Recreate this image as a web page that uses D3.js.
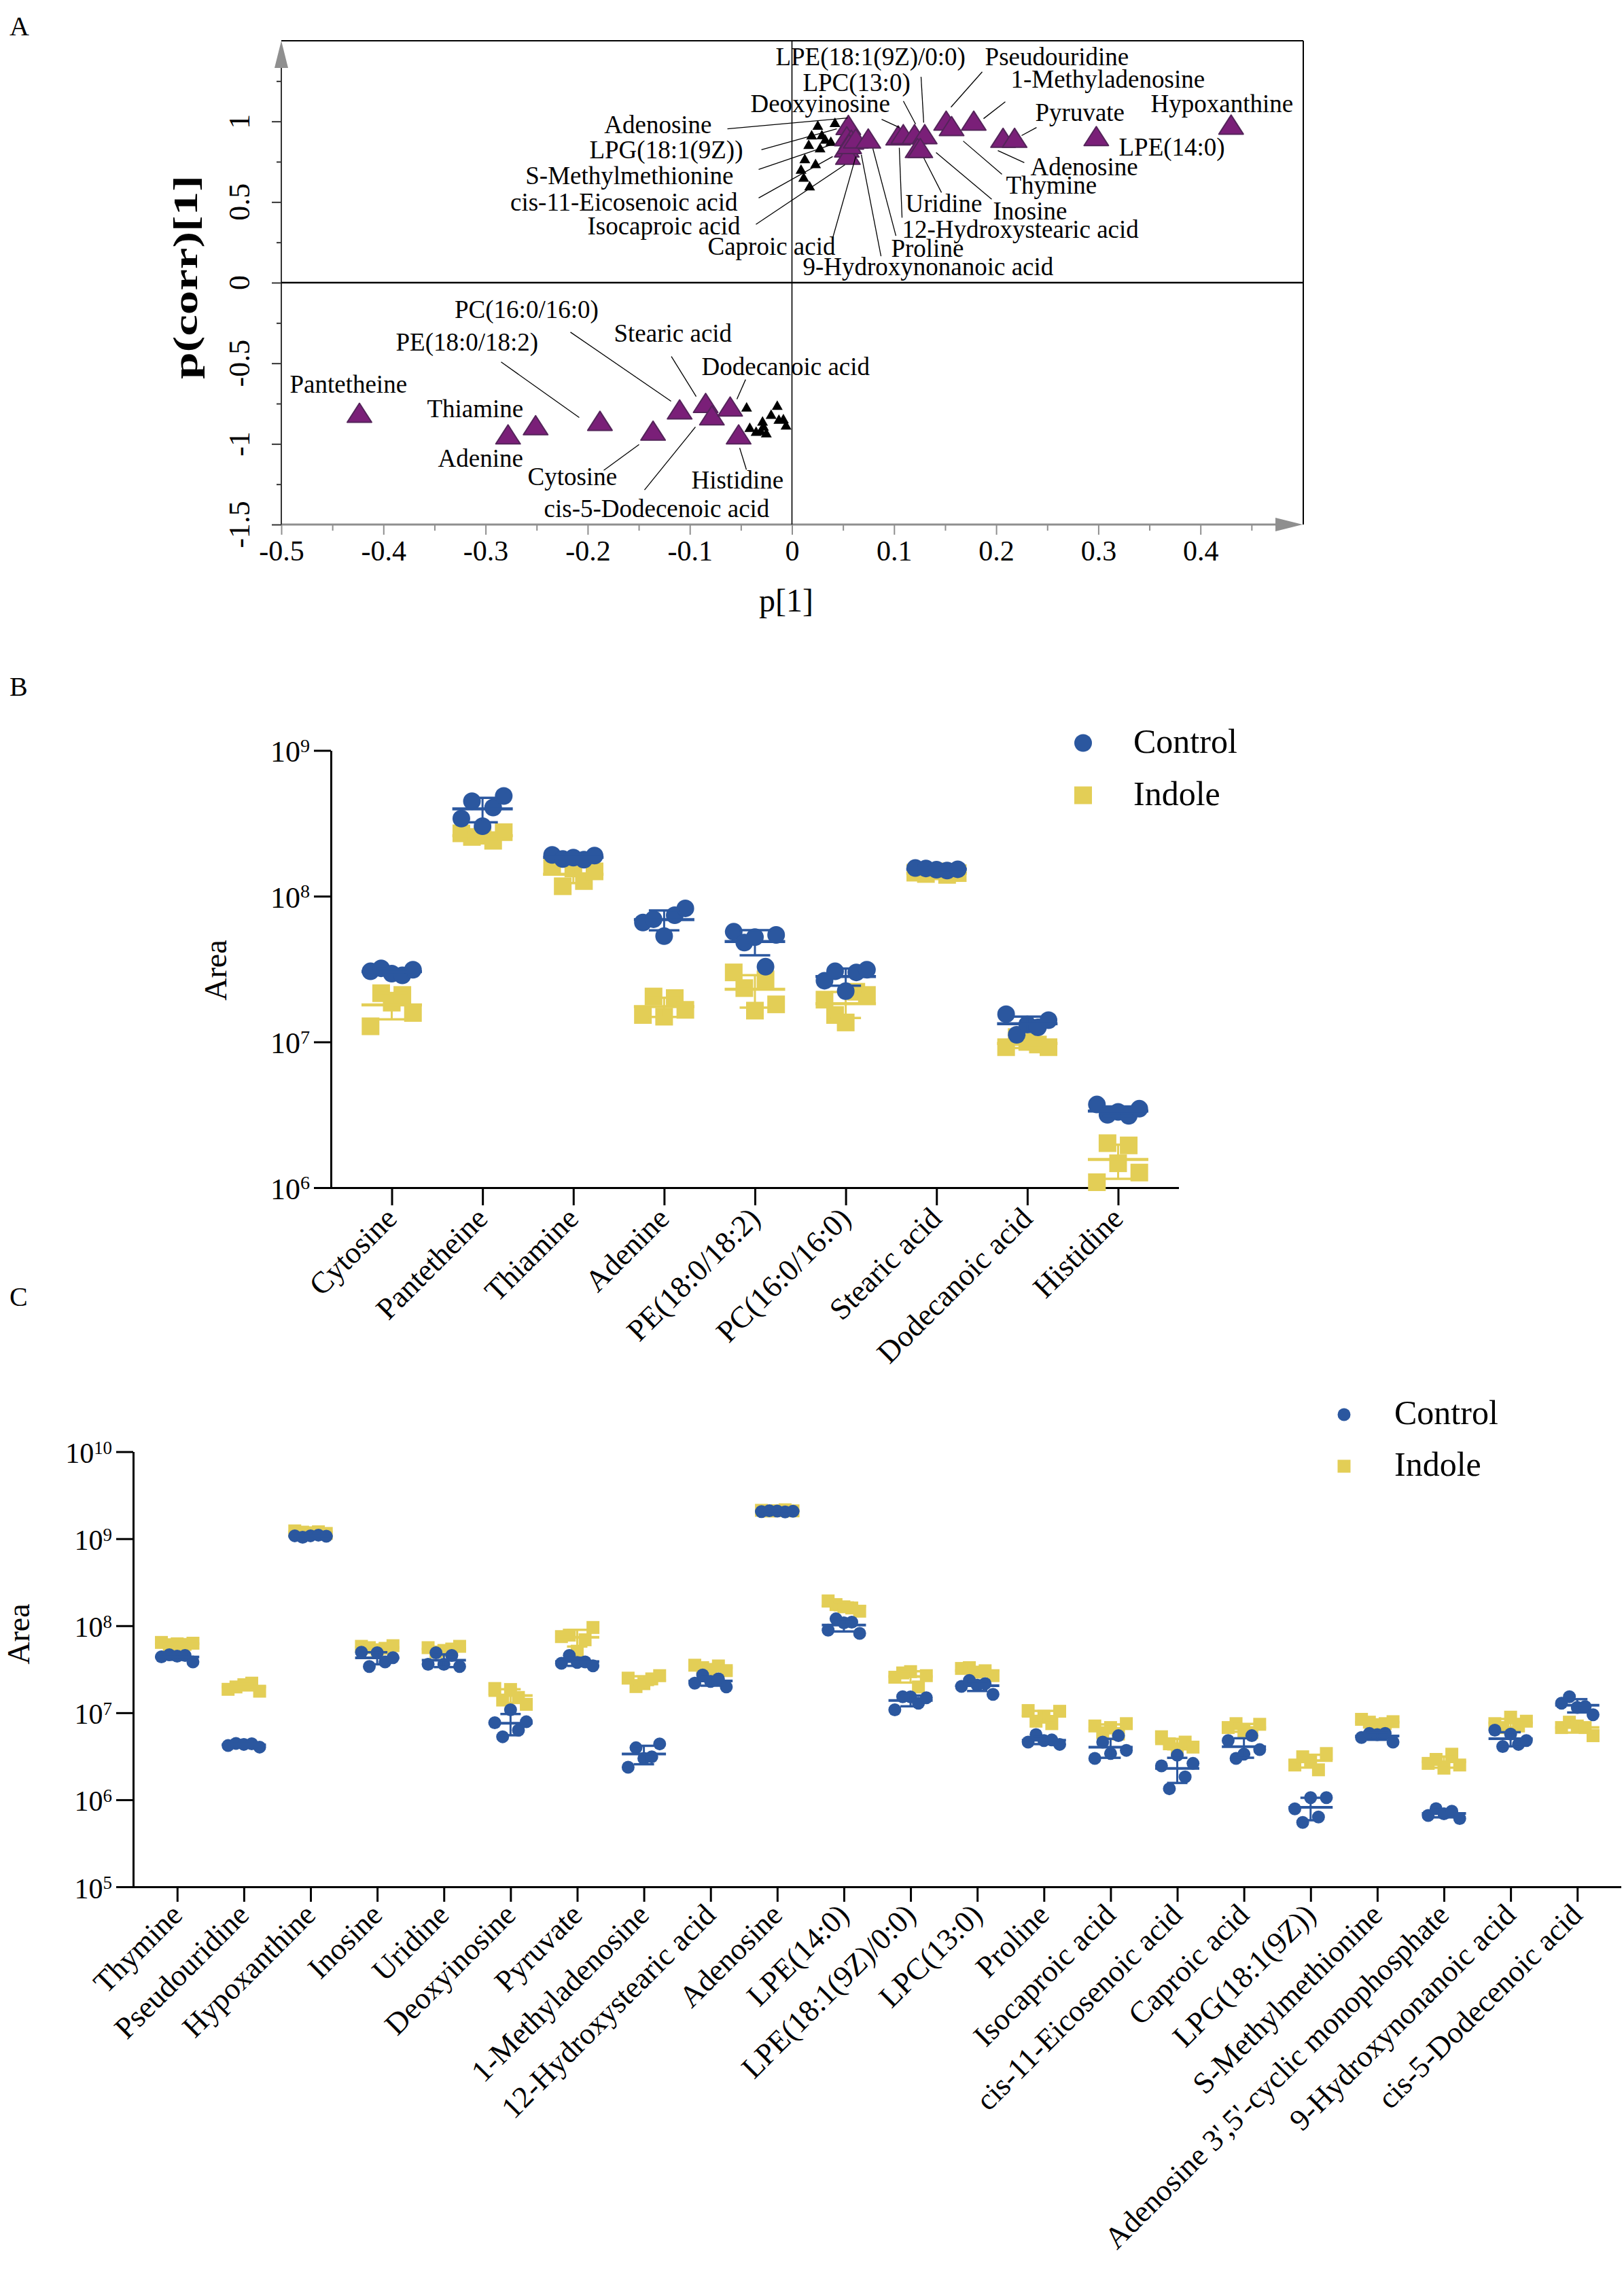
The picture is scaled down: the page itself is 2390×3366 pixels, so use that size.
<!DOCTYPE html>
<html>
<head>
<meta charset="utf-8">
<script src="https://cdn.jsdelivr.net/npm/d3@7"></script>
<style>
  body { margin: 0; background: #fff; }
  svg text { font-family: "Liberation Serif", "Times New Roman", serif; fill: #000; }
</style>
</head>
<body>
<svg id="fig" width="2390" height="3366"></svg>
<script>
// ---------- Panel A: S-plot, p[1] vs p(corr)[1] ----------
const upPoints = [
  [0.0552, 0.978], [0.0537, 0.908], [0.0581, 0.887], [0.0537, 0.838], [0.0548, 0.793],
  [0.0560, 0.860], [0.0625, 0.894], [0.0747, 0.894], [0.1040, 0.913], [0.1090, 0.921],
  [0.1200, 0.921], [0.1300, 0.921], [0.1230, 0.835], [0.1257, 0.835], [0.1510, 1.005],
  [0.1563, 0.971], [0.1780, 1.005], [0.2067, 0.898], [0.2180, 0.898], [0.2980, 0.909],
  [0.4300, 0.980]
];
const downPoints = [
  [-0.4235, -0.807], [-0.278, -0.941], [-0.251, -0.884], [-0.188, -0.857], [-0.136, -0.918],
  [-0.110, -0.786], [-0.0845, -0.746], [-0.0784, -0.823], [-0.0605, -0.768], [-0.0522, -0.941]
];
const otherPoints = [
  [0.0421, 0.994], [0.0253, 0.978], [0.0193, 0.917], [0.0293, 0.919], [0.0326, 0.891],
  [0.0381, 0.877], [0.0164, 0.858], [0.0275, 0.837], [0.0126, 0.770], [0.0231, 0.739],
  [0.0089, 0.705], [0.0115, 0.655], [0.0173, 0.602],
  [-0.0444, -0.770], [-0.0144, -0.759], [-0.0204, -0.815], [-0.0128, -0.846], [-0.0084, -0.843],
  [-0.0058, -0.882], [-0.0288, -0.857], [-0.0413, -0.896], [-0.0351, -0.921], [-0.0306, -0.916],
  [-0.0251, -0.930], [-0.0279, -0.888]
];
// name, label x, label y, anchor, leader from (x, y) to (x, y) -- all in data units
const plotLabels = [
  ["LPE(18:1(9Z)/0:0)", -0.016, 1.349, "start", 0.1264, 1.277, 0.129, 0.992],
  ["Pseudouridine", 0.189, 1.349, "start", 0.1863, 1.307, 0.1557, 1.088],
  ["LPC(13:0)", 0.0106, 1.189, "start", 0.1091, 1.126, 0.1211, 0.983],
  ["1-Methyladenosine", 0.2142, 1.210, "start", 0.2089, 1.122, 0.1876, 1.017],
  ["Deoxyinosine", -0.0406, 1.059, "start", 0.0878, 1.013, 0.1051, 0.962],
  ["Pyruvate", 0.2382, 1.004, "start", 0.2395, 0.962, 0.2249, 0.912],
  ["Hypoxanthine", 0.3513, 1.059, "start"],
  ["LPE(14:0)", 0.32, 0.790, "start"],
  ["Adenosine", 0.2335, 0.664, "start", 0.2275, 0.744, 0.2016, 0.819],
  ["Thymine", 0.2096, 0.550, "start", 0.2056, 0.672, 0.1677, 0.878],
  ["Uridine", 0.1111, 0.437, "start", 0.1464, 0.559, 0.1291, 0.773],
  ["Inosine", 0.1969, 0.391, "start", 0.1956, 0.517, 0.1411, 0.807],
  ["12-Hydroxystearic acid", 0.1078, 0.277, "start", 0.1078, 0.403, 0.1051, 0.836],
  ["Proline", 0.0971, 0.160, "start", 0.1018, 0.290, 0.0792, 0.832],
  ["9-Hydroxynonanoic acid", 0.0106, 0.046, "start", 0.0872, 0.164, 0.0679, 0.794],
  ["Caproic acid", -0.0825, 0.172, "start", 0.0399, 0.277, 0.0625, 0.782],
  ["Adenosine", -0.0785, 0.929, "end", -0.0632, 0.954, 0.0546, 1.021],
  ["LPG(18:1(9Z))", -0.0479, 0.769, "end", -0.0299, 0.824, 0.0439, 0.954],
  ["S-Methylmethionine", -0.0572, 0.613, "end", -0.0326, 0.702, 0.0413, 0.861],
  ["cis-11-Eicosenoic acid", -0.0532, 0.445, "end", -0.0326, 0.525, 0.0399, 0.782],
  ["Isocaproic acid", -0.0506, 0.298, "end", -0.0353, 0.361, 0.0519, 0.731],
  ["PC(16:0/16:0)", -0.3303, -0.218, "start", -0.2169, -0.307, -0.1184, -0.735],
  ["PE(18:0/18:2)", -0.3879, -0.420, "start", -0.2848, -0.492, -0.2083, -0.836],
  ["Stearic acid", -0.1743, -0.366, "start", -0.1181, -0.458, -0.0938, -0.706],
  ["Dodecanoic acid", -0.0885, -0.571, "start", -0.0454, -0.601, -0.0539, -0.723],
  ["Pantetheine", -0.4917, -0.681, "start"],
  ["Thiamine", -0.3573, -0.836, "start"],
  ["Adenine", -0.3466, -1.143, "start"],
  ["Cytosine", -0.2588, -1.256, "start", -0.1843, -1.164, -0.1497, -1.004],
  ["Histidine", -0.0985, -1.277, "start", -0.0446, -1.160, -0.0512, -1.025],
  ["cis-5-Dodecenoic acid", -0.2428, -1.454, "start", -0.1444, -1.286, -0.0945, -0.895]
];
const pTicks = [-0.5, -0.4, -0.3, -0.2, -0.1, 0, 0.1, 0.2, 0.3, 0.4];
const pMinor = [-0.45, -0.35, -0.25, -0.15, -0.05, 0.05, 0.15, 0.25, 0.35, 0.45];
const corrTicks = [-1.5, -1, -0.5, 0, 0.5, 1];
const corrMinor = [-1.25, -0.75, -0.25, 0.25, 0.75, 1.25];

// ---------- Panel B ----------
const namesB = ["Cytosine", "Pantetheine", "Thiamine", "Adenine", "PE(18:0/18:2)",
  "PC(16:0/16:0)", "Stearic acid", "Dodecanoic acid", "Histidine"];
const controlB = [
  [3.05e7, 3.2e7, 2.94e7, 2.86e7, 3.13e7],
  [3.41e8, 4.48e8, 3.02e8, 4.06e8, 4.87e8],
  [1.92e8, 1.8e8, 1.84e8, 1.78e8, 1.9e8],
  [6.6e7, 6.95e7, 5.32e7, 7.4e7, 8.25e7],
  [5.7e7, 4.8e7, 5.24e7, 3.28e7, 5.42e7],
  [2.63e7, 3.05e7, 2.23e7, 3.0e7, 3.13e7],
  [1.56e8, 1.55e8, 1.52e8, 1.5e8, 1.53e8],
  [1.55e7, 1.12e7, 1.32e7, 1.26e7, 1.41e7],
  [3.72e6, 3.16e6, 3.31e6, 3.11e6, 3.48e6]
];
const indoleB = [
  [1.28e7, 2.16e7, 1.86e7, 2.1e7, 1.58e7],
  [2.7e8, 2.55e8, 2.6e8, 2.4e8, 2.75e8],
  [1.59e8, 1.17e8, 1.55e8, 1.27e8, 1.48e8],
  [1.53e7, 2.05e7, 1.49e7, 2.0e7, 1.66e7],
  [3.0e7, 2.34e7, 1.64e7, 2.69e7, 1.81e7],
  [1.95e7, 1.53e7, 1.36e7, 2.21e7, 2.1e7],
  [1.45e8, 1.42e8, 1.48e8, 1.4e8, 1.44e8],
  [9.2e6, 1.08e7, 1.0e7, 9.6e6, 9.2e6],
  [1.09e6, 2.02e6, 1.47e6, 1.95e6, 1.27e6]
];
const decadesB = [1e6, 1e7, 1e8, 1e9];

// ---------- Panel C ----------
const namesC = ["Thymine", "Pseudouridine", "Hypoxanthine", "Inosine", "Uridine", "Deoxyinosine",
  "Pyruvate", "1-Methyladenosine", "12-Hydroxystearic acid", "Adenosine", "LPE(14:0)",
  "LPE(18:1(9Z)/0:0)", "LPC(13:0)", "Proline", "Isocaproic acid", "cis-11-Eicosenoic acid",
  "Caproic acid", "LPG(18:1(9Z))", "S-Methylmethionine",
  "Adenosine 3',5'-cyclic monophosphate", "9-Hydroxynonanoic acid", "cis-5-Dodecenoic acid"];
const controlC = [
  [4.4e7, 4.64e7, 4.48e7, 4.56e7, 3.84e7],
  [4.2e6, 4.45e6, 4.33e6, 4.4e6, 4.03e6],
  [1.08e9, 1.04e9, 1.08e9, 1.1e9, 1.07e9],
  [4.97e7, 3.4e7, 4.9e7, 3.84e7, 4.3e7],
  [3.61e7, 4.9e7, 3.61e7, 4.56e7, 3.4e7],
  [7.69e6, 5.3e6, 1.08e7, 6.3e6, 7.88e6],
  [3.71e7, 4.56e7, 3.78e7, 3.84e7, 3.46e7],
  [2.37e6, 3.96e6, 2.99e6, 3.12e6, 4.39e6],
  [2.19e7, 2.72e7, 2.29e7, 2.45e7, 1.98e7],
  [2.05e9, 2.1e9, 2.08e9, 2.03e9, 2.07e9],
  [8.9e7, 1.2e8, 1.08e8, 1.1e8, 8.18e7],
  [1.08e7, 1.53e7, 1.52e7, 1.29e7, 1.49e7],
  [2.01e7, 2.35e7, 2.07e7, 2.16e7, 1.63e7],
  [4.6e6, 5.6e6, 4.79e6, 4.87e6, 4.33e6],
  [2.99e6, 4.6e6, 3.4e6, 5.45e6, 3.7e6],
  [2.45e6, 1.34e6, 3.25e6, 1.83e6, 2.62e6],
  [4.79e6, 2.99e6, 3.34e6, 5.45e6, 3.77e6],
  [7.87e5, 5.5e5, 1.06e6, 6.35e5, 1.06e6],
  [5.2e6, 5.8e6, 5.6e6, 5.8e6, 4.6e6],
  [6.6e5, 7.9e5, 6.9e5, 7.4e5, 6.1e5],
  [6.31e6, 4.1e6, 5.69e6, 4.33e6, 4.79e6],
  [1.29e7, 1.53e7, 1.15e7, 1.18e7, 9.5e6]
];
const indoleC = [
  [6.43e7, 6.05e7, 6.2e7, 6.1e7, 6.3e7],
  [1.86e7, 1.98e7, 2.1e7, 2.19e7, 1.77e7],
  [1.23e9, 1.19e9, 1.17e9, 1.2e9, 1.15e9],
  [5.8e7, 5.6e7, 5.3e7, 5.5e7, 5.9e7],
  [5.6e7, 5.0e7, 5.2e7, 5.4e7, 5.8e7],
  [1.9e7, 1.4e7, 1.85e7, 1.5e7, 1.25e7],
  [7.5e7, 7.8e7, 5.1e7, 6.9e7, 9.55e7],
  [2.5e7, 2.0e7, 2.16e7, 2.45e7, 2.67e7],
  [3.52e7, 3.3e7, 3.15e7, 3.45e7, 3.05e7],
  [2.12e9, 2.08e9, 2.1e9, 2.15e9, 2.09e9],
  [1.93e8, 1.75e8, 1.65e8, 1.6e8, 1.47e8],
  [2.56e7, 2.87e7, 2.97e7, 1.98e7, 2.67e7],
  [3.23e7, 3.3e7, 2.93e7, 3.04e7, 2.67e7],
  [1.06e7, 8.0e6, 9.1e6, 7.5e6, 1.04e7],
  [7.05e6, 5.9e6, 6.76e6, 5.7e6, 7.5e6],
  [5.3e6, 4.4e6, 3.7e6, 4.6e6, 4.03e6],
  [6.76e6, 7.5e6, 6.2e6, 5.9e6, 7.37e6],
  [2.51e6, 3.12e6, 2.85e6, 2.21e6, 3.4e6],
  [8.4e6, 7.8e6, 7.3e6, 7.5e6, 7.9e6],
  [2.62e6, 2.91e6, 2.31e6, 3.34e6, 2.51e6],
  [7.5e6, 6.76e6, 8.9e6, 7.05e6, 8.0e6],
  [6.76e6, 7.8e6, 7.05e6, 6.76e6, 5.45e6]
];
const decadesC = [1e5, 1e6, 1e7, 1e8, 1e9, 1e10];
const groups = ["Control", "Indole"];

const BLUE = "#2b579f", YELLOW = "#e3ce56", PURPLE = "#7a1f78", GREY = "#8f8f8f";
const svg = d3.select("#fig");

// panel letters
svg.append("text").attr("x", 14).attr("y", 52).attr("font-size", 40).text("A");
svg.append("text").attr("x", 14).attr("y", 1024).attr("font-size", 40).text("B");
svg.append("text").attr("x", 14).attr("y", 1922).attr("font-size", 40).text("C");

// =================== Panel A ===================
const gA = svg.append("g");
const xA = d3.scaleLinear().domain([-0.5, 0.5]).range([414, 1917]);
const yA = d3.scaleLinear().domain([-1.5, 1.5]).range([772, 60]);

// frame top / right
gA.append("line").attr("x1", xA(-0.5)).attr("x2", xA(0.5) + 1)
  .attr("y1", yA(1.5)).attr("y2", yA(1.5)).attr("stroke", "#000").attr("stroke-width", 2);
gA.append("line").attr("x1", xA(0.5) + 1).attr("x2", xA(0.5) + 1)
  .attr("y1", yA(1.5)).attr("y2", yA(-1.5)).attr("stroke", "#000").attr("stroke-width", 2);

// x axis (grey, with arrow)
const axXmin = gA.append("g").attr("transform", `translate(0,${yA(-1.5)})`)
  .call(d3.axisBottom(xA).tickValues(pMinor).tickSize(9).tickFormat(""));
const axXmaj = gA.append("g").attr("transform", `translate(0,${yA(-1.5)})`)
  .call(d3.axisBottom(xA).tickValues(pTicks).tickSize(15).tickPadding(8).tickFormat(d => String(d)));
[axXmin, axXmaj].forEach(a => {
  a.select(".domain").remove();
  a.selectAll(".tick line").attr("stroke", GREY).attr("stroke-width", 2);
});
axXmaj.selectAll(".tick text").attr("font-size", 42)
  .style("font-family", '"Liberation Serif","Times New Roman",serif');
gA.append("line").attr("x1", xA(-0.5)).attr("x2", xA(0.5) - 38)
  .attr("y1", yA(-1.5)).attr("y2", yA(-1.5)).attr("stroke", GREY).attr("stroke-width", 3);
gA.append("path")
  .attr("d", `M${xA(0.5)},${yA(-1.5)} L${xA(0.5) - 40},${yA(-1.5) - 10} L${xA(0.5) - 40},${yA(-1.5) + 10} Z`)
  .attr("fill", GREY);

// y axis (with arrow)
const axYmin = gA.append("g").attr("transform", `translate(${xA(-0.5)},0)`)
  .call(d3.axisLeft(yA).tickValues(corrMinor).tickSize(7).tickFormat(""));
const axYmaj = gA.append("g").attr("transform", `translate(${xA(-0.5)},0)`)
  .call(d3.axisLeft(yA).tickValues(corrTicks).tickSize(14).tickFormat(""));
[axYmin, axYmaj].forEach(a => {
  a.select(".domain").remove();
  a.selectAll(".tick line").attr("stroke", "#333").attr("stroke-width", 2);
});
gA.append("line").attr("x1", xA(-0.5)).attr("x2", xA(-0.5))
  .attr("y1", yA(-1.5)).attr("y2", yA(1.5) + 38).attr("stroke", "#333").attr("stroke-width", 2);
gA.append("path")
  .attr("d", `M${xA(-0.5)},${yA(1.5)} L${xA(-0.5) - 10},${yA(1.5) + 40} L${xA(-0.5) + 10},${yA(1.5) + 40} Z`)
  .attr("fill", GREY);
gA.selectAll(".ylab").data(corrTicks).enter().append("text")
  .attr("transform", d => `translate(367,${yA(d)}) rotate(-90)`)
  .attr("text-anchor", "middle").attr("font-size", 44)
  .text(d => String(d));

// axis titles
gA.append("text").attr("transform", `translate(290,${yA(0) - 8}) rotate(-90)`)
  .attr("text-anchor", "middle").attr("font-size", 50).attr("font-weight", "bold")
  .attr("textLength", 300).attr("lengthAdjust", "spacingAndGlyphs").text("p(corr)[1]");
gA.append("text").attr("x", 1157).attr("y", 900).attr("text-anchor", "middle")
  .attr("font-size", 48).text("p[1]");

// zero lines
gA.append("line").attr("x1", xA(-0.5)).attr("x2", xA(0.5))
  .attr("y1", yA(0)).attr("y2", yA(0)).attr("stroke", "#000").attr("stroke-width", 2.5);
gA.append("line").attr("x1", xA(0)).attr("x2", xA(0))
  .attr("y1", yA(-1.5)).attr("y2", yA(1.5)).attr("stroke", "#000").attr("stroke-width", 1.6);

// triangles
const tri = (w, h) => `M0,${-h / 2} L${w / 2},${h / 2} L${-w / 2},${h / 2} Z`;
gA.selectAll(".blk").data(otherPoints).enter().append("path")
  .attr("d", tri(16, 14)).attr("fill", "#000")
  .attr("transform", d => `translate(${xA(d[0])},${yA(d[1])})`);
gA.selectAll(".pur").data(upPoints.concat(downPoints)).enter().append("path")
  .attr("d", tri(36, 28)).attr("fill", PURPLE).attr("stroke", "#54245a").attr("stroke-width", 2)
  .attr("stroke-linejoin", "round")
  .attr("transform", d => `translate(${xA(d[0])},${yA(d[1])})`);

// annotation labels and leader lines
plotLabels.forEach(l => {
  if (l.length > 4) {
    gA.append("line").attr("x1", xA(l[4])).attr("y1", yA(l[5]))
      .attr("x2", xA(l[6])).attr("y2", yA(l[7])).attr("stroke", "#000").attr("stroke-width", 1.3);
  }
  gA.append("text").attr("x", xA(l[1])).attr("y", yA(l[2])).attr("text-anchor", l[3])
    .attr("font-size", 37).text(l[0]);
});

// =================== dot plot panels ===================
function dotPanel(o) {
  const g = svg.append("g");
  const x = d3.scalePoint().domain(o.names).range([o.left, o.right]).padding(o.pad);
  const y = d3.scaleLog().domain(o.dom).range([o.bottom, o.top]);

  // axes
  const ay = g.append("g").attr("transform", `translate(${o.left},0)`)
    .call(d3.axisLeft(y).tickValues(o.decades).tickSize(25).tickSizeOuter(0).tickFormat(""));
  const ax = g.append("g").attr("transform", `translate(0,${o.bottom})`)
    .call(d3.axisBottom(x).tickSize(o.tickLen).tickSizeOuter(0).tickFormat(""));
  [ay, ax].forEach(a => {
    a.select(".domain").attr("stroke-width", 3);
    a.selectAll(".tick line").attr("stroke-width", 3);
  });
  ax.select(".domain").attr("d", `M${o.left},0.5H${o.right}`);

  o.decades.forEach(d => {
    const t = g.append("text").attr("x", o.left - 31).attr("y", y(d) + 16.5)
      .attr("text-anchor", "end").attr("font-size", o.tickFont);
    t.append("tspan").text("10");
    t.append("tspan").attr("dy", -o.tickFont * 0.32).attr("font-size", o.tickFont * 0.64)
      .text(String(Math.round(Math.log10(d))));
  });

  g.selectAll(".cat").data(o.names).enter().append("text")
    .attr("transform", d => `translate(${x(d) + o.labDx},${o.bottom + o.labDy}) rotate(-45)`)
    .attr("text-anchor", "end").attr("font-size", o.catFont).text(d => d);

  g.append("text").attr("transform", `translate(${o.titleX},${o.titleY}) rotate(-90)`)
    .attr("text-anchor", "middle").attr("font-size", 46).text("Area");

  // points: Indole first, Control on top
  [[o.indole, "sq", YELLOW], [o.control, "ci", BLUE]].forEach(([series, kind, col]) => {
    series.forEach((vals, i) => {
      const cx = x(o.names[i]);
      const n = vals.length;
      vals.forEach((v, j) => {
        const px = cx + (j - (n - 1) / 2) * o.step;
        if (kind === "ci") {
          g.append("circle").attr("cx", px).attr("cy", y(v)).attr("r", o.r).attr("fill", col);
        } else {
          g.append("rect").attr("x", px - o.r).attr("y", y(v) - o.r)
            .attr("width", o.r * 2).attr("height", o.r * 2).attr("fill", col);
        }
      });
      const m = d3.mean(vals), sd = d3.deviation(vals);
      const hi = y(m + sd), lo = y(Math.max(m - sd, o.dom[0]));
      const bar = g.append("g").attr("stroke", col);
      bar.append("line").attr("x1", cx).attr("x2", cx).attr("y1", hi).attr("y2", lo).attr("stroke-width", 3);
      bar.append("line").attr("x1", cx - o.capW / 2).attr("x2", cx + o.capW / 2)
        .attr("y1", hi).attr("y2", hi).attr("stroke-width", 3.5);
      bar.append("line").attr("x1", cx - o.capW / 2).attr("x2", cx + o.capW / 2)
        .attr("y1", lo).attr("y2", lo).attr("stroke-width", 3.5);
      bar.append("line").attr("x1", cx - o.meanW / 2).attr("x2", cx + o.meanW / 2)
        .attr("y1", y(m)).attr("y2", y(m)).attr("stroke-width", o.meanLw);
    });
  });

  // legend
  const lg = g.append("g");
  lg.append("circle").attr("cx", o.legX).attr("cy", o.legY).attr("r", o.legR).attr("fill", BLUE);
  lg.append("rect").attr("x", o.legX - o.legR).attr("y", o.legY + o.legGap - o.legR)
    .attr("width", o.legR * 2).attr("height", o.legR * 2).attr("fill", YELLOW);
  groups.forEach((name, k) => {
    lg.append("text").attr("x", o.legTx).attr("y", o.legY + 14 + k * o.legGap)
      .attr("font-size", 50).text(name);
  });
}

dotPanel({
  names: namesB, control: controlB, indole: indoleB, decades: decadesB,
  dom: [1e6, 1e9], left: 487, right: 1735, top: 1104.5, bottom: 1748, pad: 0.67,
  tickLen: 26, tickFont: 44, catFont: 45, labDx: 10, labDy: 48,
  titleX: 333, titleY: 1428, step: 15.6, r: 13, capW: 45, meanW: 89, meanLw: 4.5,
  legX: 1594, legY: 1093.5, legR: 13, legGap: 77, legTx: 1668
});

dotPanel({
  names: namesC, control: controlC, indole: indoleC, decades: decadesC,
  dom: [1e5, 1e10], left: 196, right: 2386, top: 2136.6, bottom: 2777, pad: 0.66,
  tickLen: 22, tickFont: 42, catFont: 45, labDx: 10, labDy: 44,
  titleX: 43, titleY: 2405, step: 11.6, r: 9.5, capW: 30, meanW: 65, meanLw: 4,
  legX: 1978, legY: 2082, legR: 9.5, legGap: 76, legTx: 2052
});
</script>
</body>
</html>
